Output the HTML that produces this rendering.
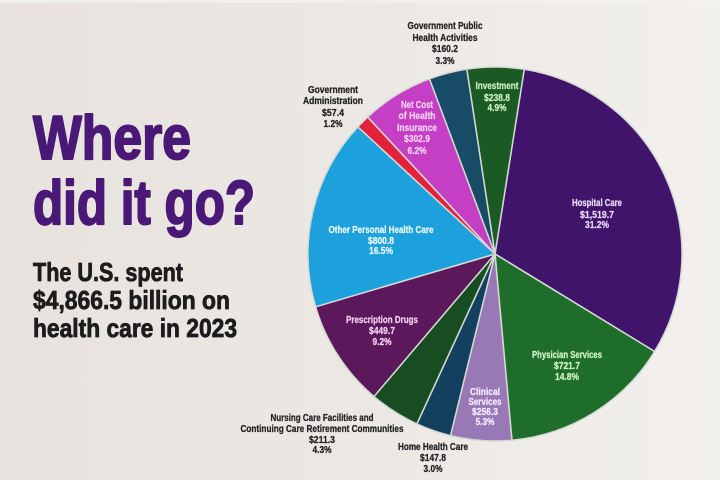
<!DOCTYPE html>
<html>
<head>
<meta charset="utf-8">
<style>
  html,body{margin:0;padding:0;}
  body{width:720px;height:480px;overflow:hidden;background:linear-gradient(to right,#e7e2dd 0%,#ebe7e3 45%,#f2f0ed 100%);}
  svg{display:block;}
  .t{font-family:"Liberation Sans Narrow","Liberation Sans",sans-serif;font-weight:bold;}
  .s{font-family:"Liberation Sans Narrow","Liberation Sans",sans-serif;font-weight:bold;font-size:10px;text-anchor:middle;stroke-width:0.25;}
</style>
</head>
<body>
<svg width="720" height="480" viewBox="0 0 720 480" xmlns="http://www.w3.org/2000/svg">
  <rect x="0" y="0" width="720" height="3" fill="#f4f2f0" opacity="0.7"/>

  <!-- Title -->
  <g stroke="#4a1877" stroke-width="2" stroke-linejoin="round">
  <text class="t" x="33" y="159" font-size="62" fill="#4a1877" textLength="158" lengthAdjust="spacingAndGlyphs">Where</text>
  <text class="t" x="33" y="224" font-size="62" fill="#4a1877" textLength="222" lengthAdjust="spacingAndGlyphs">did it go?</text>
  </g>

  <g stroke="#1c1c1c" stroke-width="0.8" stroke-linejoin="round">
  <text class="t" x="33" y="281" font-size="26" fill="#1c1c1c" textLength="150" lengthAdjust="spacingAndGlyphs">The U.S. spent</text>
  <text class="t" x="33" y="309" font-size="26" fill="#1c1c1c" textLength="197" lengthAdjust="spacingAndGlyphs">$4,866.5 billion on</text>
  <text class="t" x="33" y="337" font-size="26" fill="#1c1c1c" textLength="204" lengthAdjust="spacingAndGlyphs">health care in 2023</text>
  </g>

  <!-- Pie -->
  <g stroke="#d3d9d3" stroke-width="1.5" stroke-linejoin="round">
    <path d="M495,254 L524.25,69.30 A187,187 0 0 1 654.59,351.48 Z" fill="#40146a"/>
    <path d="M495,254 L654.59,351.48 A187,187 0 0 1 511.92,440.23 Z" fill="#1f6d2b"/>
    <path d="M495,254 L511.92,440.23 A187,187 0 0 1 450.49,435.63 Z" fill="#9878b5"/>
    <path d="M495,254 L450.49,435.63 A187,187 0 0 1 416.86,423.89 Z" fill="#12405e"/>
    <path d="M495,254 L416.86,423.89 A187,187 0 0 1 373.97,396.55 Z" fill="#174d20"/>
    <path d="M495,254 L373.97,396.55 A187,187 0 0 1 315.61,306.80 Z" fill="#5b185b"/>
    <path d="M495,254 L315.61,306.80 A187,187 0 0 1 357.87,126.86 Z" fill="#1ca1dd"/>
    <path d="M495,254 L357.87,126.86 A187,187 0 0 1 367.68,117.04 Z" fill="#e4213b"/>
    <path d="M495,254 L367.68,117.04 A187,187 0 0 1 429.51,78.84 Z" fill="#c43fc4"/>
    <path d="M495,254 L429.51,78.84 A187,187 0 0 1 466.88,69.13 Z" fill="#174b66"/>
    <path d="M495,254 L466.88,69.13 A187,187 0 0 1 524.25,69.30 Z" fill="#1b5a24"/>
  </g>

  <!-- Outside labels -->
  <g fill="#222" stroke="#222">
    <text class="s" x="445" y="29" textLength="75" lengthAdjust="spacingAndGlyphs">Government Public</text>
    <text class="s" x="445" y="41" textLength="65" lengthAdjust="spacingAndGlyphs">Health Activities</text>
    <text class="s" x="445" y="52" textLength="26" lengthAdjust="spacingAndGlyphs">$160.2</text>
    <text class="s" x="445" y="64" textLength="19" lengthAdjust="spacingAndGlyphs">3.3%</text>

    <text class="s" x="333" y="93" textLength="50" lengthAdjust="spacingAndGlyphs">Government</text>
    <text class="s" x="333" y="104" textLength="60" lengthAdjust="spacingAndGlyphs">Administration</text>
    <text class="s" x="333" y="116" textLength="22" lengthAdjust="spacingAndGlyphs">$57.4</text>
    <text class="s" x="333" y="127" textLength="19" lengthAdjust="spacingAndGlyphs">1.2%</text>

    <text class="s" x="322" y="421" textLength="103" lengthAdjust="spacingAndGlyphs">Nursing Care Facilities and</text>
    <text class="s" x="322" y="432" textLength="163" lengthAdjust="spacingAndGlyphs">Continuing Care Retirement Communities</text>
    <text class="s" x="322" y="443" textLength="26" lengthAdjust="spacingAndGlyphs">$211.3</text>
    <text class="s" x="322" y="453" textLength="19" lengthAdjust="spacingAndGlyphs">4.3%</text>

    <text class="s" x="433" y="450" textLength="70" lengthAdjust="spacingAndGlyphs">Home Health Care</text>
    <text class="s" x="433" y="461" textLength="26" lengthAdjust="spacingAndGlyphs">$147.8</text>
    <text class="s" x="433" y="472" textLength="19" lengthAdjust="spacingAndGlyphs">3.0%</text>
  </g>

  <!-- Inside labels -->
  <g fill="#f3d0f0" stroke="#f3d0f0">
    <text class="s" x="417" y="108" textLength="32" lengthAdjust="spacingAndGlyphs">Net Cost</text>
    <text class="s" x="417" y="119" textLength="37" lengthAdjust="spacingAndGlyphs">of Health</text>
    <text class="s" x="417" y="131" textLength="40" lengthAdjust="spacingAndGlyphs">Insurance</text>
    <text class="s" x="417" y="142" textLength="26" lengthAdjust="spacingAndGlyphs">$302.9</text>
    <text class="s" x="417" y="154" textLength="19" lengthAdjust="spacingAndGlyphs">6.2%</text>
  </g>
  <g fill="#c8efb8" stroke="#c8efb8">
    <text class="s" x="497" y="89" textLength="43" lengthAdjust="spacingAndGlyphs">Investment</text>
    <text class="s" x="497" y="101" textLength="26" lengthAdjust="spacingAndGlyphs">$238.8</text>
    <text class="s" x="497" y="111" textLength="19" lengthAdjust="spacingAndGlyphs">4.9%</text>
  </g>
  <g fill="#e6d8f5" stroke="#e6d8f5">
    <text class="s" x="597" y="206" textLength="50" lengthAdjust="spacingAndGlyphs">Hospital Care</text>
    <text class="s" x="597" y="218" textLength="34" lengthAdjust="spacingAndGlyphs">$1,519.7</text>
    <text class="s" x="597" y="228" textLength="24" lengthAdjust="spacingAndGlyphs">31.2%</text>
  </g>
  <g fill="#eaf6ff" stroke="#eaf6ff">
    <text class="s" x="381" y="233" textLength="105" lengthAdjust="spacingAndGlyphs">Other Personal Health Care</text>
    <text class="s" x="381" y="244" textLength="26" lengthAdjust="spacingAndGlyphs">$800.8</text>
    <text class="s" x="381" y="254" textLength="24" lengthAdjust="spacingAndGlyphs">16.5%</text>
  </g>
  <g fill="#f2cdf0" stroke="#f2cdf0">
    <text class="s" x="382" y="323" textLength="72" lengthAdjust="spacingAndGlyphs">Prescription Drugs</text>
    <text class="s" x="382" y="334" textLength="26" lengthAdjust="spacingAndGlyphs">$449.7</text>
    <text class="s" x="382" y="345" textLength="19" lengthAdjust="spacingAndGlyphs">9.2%</text>
  </g>
  <g fill="#d2f2c4" stroke="#d2f2c4">
    <text class="s" x="567" y="358" textLength="70" lengthAdjust="spacingAndGlyphs">Physician Services</text>
    <text class="s" x="567" y="369" textLength="26" lengthAdjust="spacingAndGlyphs">$721.7</text>
    <text class="s" x="567" y="380" textLength="24" lengthAdjust="spacingAndGlyphs">14.8%</text>
  </g>
  <g fill="#f3eaff" stroke="#f3eaff">
    <text class="s" x="485" y="395" textLength="30" lengthAdjust="spacingAndGlyphs">Clinical</text>
    <text class="s" x="485" y="405" textLength="33" lengthAdjust="spacingAndGlyphs">Services</text>
    <text class="s" x="485" y="415" textLength="26" lengthAdjust="spacingAndGlyphs">$256.3</text>
    <text class="s" x="485" y="425" textLength="19" lengthAdjust="spacingAndGlyphs">5.3%</text>
  </g>
</svg>
</body>
</html>
